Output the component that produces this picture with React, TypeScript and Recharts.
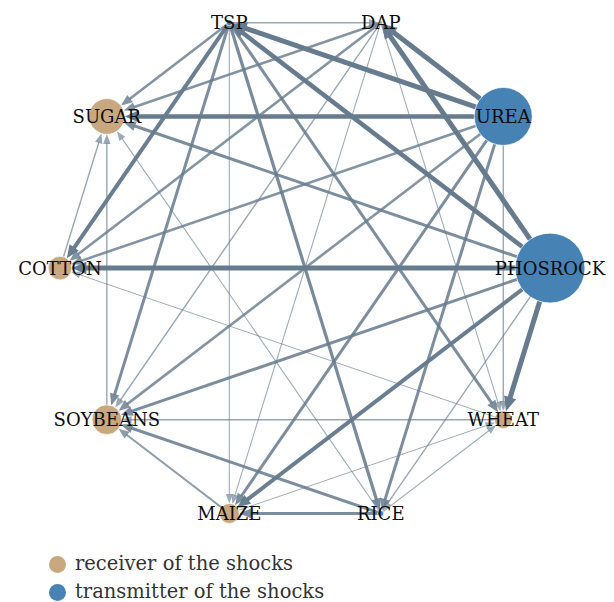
import React from 'react';
import {
  ScatterChart,
  Scatter,
  XAxis,
  YAxis,
  ZAxis,
  ReferenceLine,
  LabelList,
  Legend,
} from 'recharts';

// nodes in circular order, counter-clockwise starting east
const nodeNames = ['PHOSROCK', 'UREA', 'DAP', 'TSP', 'SUGAR', 'COTTON', 'SOYBEANS', 'MAIZE', 'RICE', 'WHEAT'];
const nodeRoles = ['T', 'T', 'R', 'T', 'R', 'R', 'R', 'R', 'T', 'R'];
const nodeStrength = [12.2, 8.4, 0.04, 0.09, 3.2, 1.4, 2.2, 1.0, 0.09, 0.8];

// [from, to, spillover weight]
const edges: [string, string, number][] = [
  ['TSP', 'DAP', 1.4],
  ['TSP', 'SUGAR', 2.6],
  ['TSP', 'COTTON', 4],
  ['TSP', 'SOYBEANS', 3],
  ['TSP', 'MAIZE', 1.1],
  ['TSP', 'RICE', 3.2],
  ['TSP', 'WHEAT', 3],
  ['PHOSROCK', 'TSP', 4.5],
  ['UREA', 'TSP', 5],
  ['DAP', 'SUGAR', 2.6],
  ['DAP', 'COTTON', 2.6],
  ['DAP', 'SOYBEANS', 1.4],
  ['DAP', 'MAIZE', 1.1],
  ['DAP', 'WHEAT', 1.1],
  ['UREA', 'DAP', 5],
  ['PHOSROCK', 'DAP', 5],
  ['UREA', 'SUGAR', 4.5],
  ['UREA', 'COTTON', 2.6],
  ['UREA', 'SOYBEANS', 2.6],
  ['UREA', 'MAIZE', 3],
  ['UREA', 'RICE', 3],
  ['UREA', 'WHEAT', 1.4],
  ['PHOSROCK', 'SUGAR', 3],
  ['PHOSROCK', 'COTTON', 5],
  ['PHOSROCK', 'SOYBEANS', 3],
  ['PHOSROCK', 'MAIZE', 4],
  ['PHOSROCK', 'RICE', 1.4],
  ['PHOSROCK', 'WHEAT', 5],
  ['RICE', 'MAIZE', 3],
  ['RICE', 'SOYBEANS', 3],
  ['RICE', 'WHEAT', 1.1],
  ['RICE', 'SUGAR', 1.1],
  ['MAIZE', 'SOYBEANS', 2],
  ['MAIZE', 'WHEAT', 1],
  ['WHEAT', 'SOYBEANS', 1.4],
  ['WHEAT', 'COTTON', 1],
  ['COTTON', 'SUGAR', 1.4],
  ['SOYBEANS', 'SUGAR', 1.4],
];

const RECEIVER = '#c9a880';
const TRANSMITTER = '#4682b4';
const EDGE = '#667b8e';
const SERIF = '"DejaVu Serif", serif';
const MAX_STRENGTH = 12.25;
const MAX_AREA = 3848;

// circle layout
const nodes = nodeNames.map((name, i) => {
  const a = (i * 2 * Math.PI) / nodeNames.length;
  return { name, role: nodeRoles[i], strength: nodeStrength[i], x: Math.cos(a), y: Math.sin(a) };
});
const byName: Record<string, (typeof nodes)[number]> = {};
nodes.forEach((n) => (byName[n.name] = n));

const radiusOf = (s: number) => Math.sqrt(((s / MAX_STRENGTH) * MAX_AREA) / Math.PI);

function EdgeShape(props: any) {
  const { x1, y1, x2, y2, weight, targetRadius } = props;
  const dx = x2 - x1;
  const dy = y2 - y1;
  const len = Math.hypot(dx, dy) || 1;
  const ux = dx / len;
  const uy = dy / len;
  const head = 8 + 1.3 * weight;
  const half = 2.8 + 0.7 * weight;
  const tx = x2 - ux * targetRadius;
  const ty = y2 - uy * targetRadius;
  const bx = tx - ux * head;
  const by = ty - uy * head;
  const op = Math.min(1, 0.5 + 0.12 * weight);
  return (
    <g>
      <line x1={x1} y1={y1} x2={bx + ux} y2={by + uy} stroke={EDGE} strokeOpacity={op} strokeWidth={weight} />
      <polygon
        points={`${tx},${ty} ${bx - uy * half},${by + ux * half} ${bx + uy * half},${by - ux * half}`}
        fill={EDGE}
        fillOpacity={op}
      />
    </g>
  );
}

function NodeShape(props: any) {
  const { cx, cy, size, fill } = props;
  const r = Math.sqrt(Math.max(size, 0) / Math.PI);
  return <circle cx={cx} cy={cy} r={r} fill={fill} stroke="#ffffff" strokeWidth={1} strokeOpacity={0.7} />;
}

function NodeLabel(props: any) {
  const vb = props.viewBox || props;
  const cx = vb.x + (vb.width || 0) / 2;
  const cy = vb.y + (vb.height || 0) / 2;
  return (
    <text x={cx} y={cy + 6.5} textAnchor="middle" fontFamily={SERIF} fontSize={18} fill="#0d0d0d">
      {props.value}
    </text>
  );
}

function LegendContent(props: any) {
  const items = props.payload || [];
  return (
    <div style={{ height: 70, paddingTop: 18, boxSizing: 'border-box', paddingLeft: 49 }}>
      {items.map((it: any) => (
        <div key={it.value} style={{ display: 'flex', alignItems: 'center', height: 28, whiteSpace: 'nowrap' }}>
          <span
            style={{
              display: 'inline-block',
              width: 17,
              height: 17,
              borderRadius: '50%',
              background: it.color,
              marginRight: 9,
            }}
          />
          <span style={{ fontFamily: SERIF, fontSize: 19.5, lineHeight: 1, color: '#333' }}>{it.value}</span>
        </div>
      ))}
    </div>
  );
}

export default function App() {
  const receivers = nodes.filter((n) => n.role === 'R');
  const transmitters = nodes.filter((n) => n.role === 'T');
  return (
    <div style={{ position: 'absolute', left: 0, top: 0, background: '#fff' }}>
      <ScatterChart width={614} height={602} margin={{ top: 0, right: 0, bottom: 0, left: 0 }}>
        <XAxis type="number" dataKey="x" domain={[-1.245, 1.261]} allowDataOverflow hide />
        <YAxis type="number" dataKey="y" domain={[-1.023, 1.039]} allowDataOverflow hide />
        <ZAxis type="number" dataKey="strength" domain={[0, MAX_STRENGTH]} range={[0, MAX_AREA]} />
        {edges.map(([from, to, w]) => {
          const s = byName[from];
          const t = byName[to];
          return (
            <ReferenceLine
              key={`${from}-${to}`}
              segment={[
                { x: s.x, y: s.y },
                { x: t.x, y: t.y },
              ]}
              ifOverflow="visible"
              shape={(p: any) => <EdgeShape {...p} weight={w} targetRadius={radiusOf(t.strength)} />}
            />
          );
        })}
        <Scatter
          name="receiver of the shocks"
          data={receivers}
          fill={RECEIVER}
          shape={NodeShape}
          isAnimationActive={false}
        >
          <LabelList dataKey="name" content={NodeLabel} />
        </Scatter>
        <Scatter
          name="transmitter of the shocks"
          data={transmitters}
          fill={TRANSMITTER}
          shape={NodeShape}
          isAnimationActive={false}
        >
          <LabelList dataKey="name" content={NodeLabel} />
        </Scatter>
        <Legend verticalAlign="bottom" content={LegendContent} />
      </ScatterChart>
    </div>
  );
}
